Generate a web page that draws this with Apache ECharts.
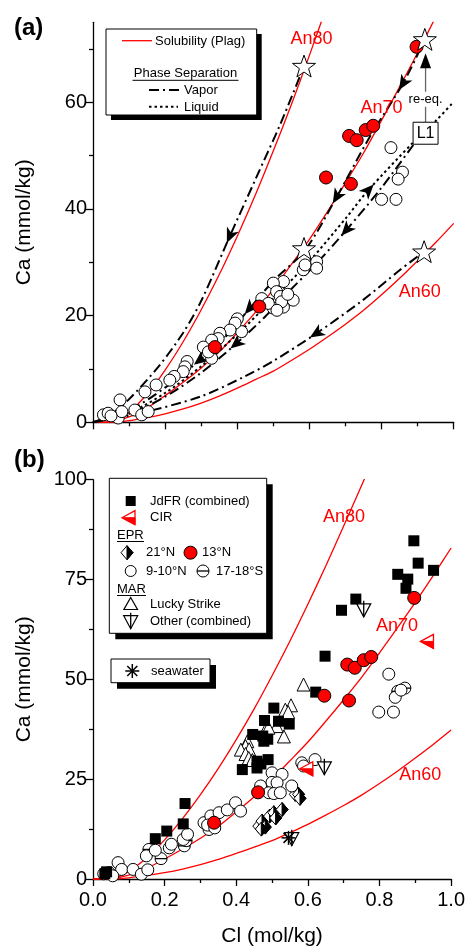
<!DOCTYPE html>
<html><head><meta charset="utf-8">
<script src="https://cdn.jsdelivr.net/npm/echarts@6/dist/echarts.min.js"></script>
<style>html,body{margin:0;padding:0;background:#fff}#c{width:468px;height:948px}</style>
</head><body><div id="c"></div>
<script>
// ---------- solubility curves (Plag) ----------
const solX = [0,0.05,0.1,0.15,0.2,0.25,0.3,0.35,0.4,0.45,0.5,0.55,0.6,0.65,0.7,0.75,0.8,0.85,0.9,0.95,1.0];
const an80X = [0,0.05,0.1,0.15,0.2,0.25,0.3,0.35,0.4,0.45,0.5,0.55,0.6,0.65,0.7,0.76];
const an80Y = [0,0,1.9,5.3,9.8,15.1,21.1,27.7,34.9,42.6,50.9,59.6,68.8,78.4,88.4,100.6];
const an70Y = [0,0.1,1.0,2.7,5.0,7.5,10.2,13.2,16.8,20.6,25.0,29.6,34.3,39.5,44.9,50.5,56.6,62.9,69.3,76.0,82.9];
const an60Y = [0,0,0.3,0.9,1.6,2.5,3.6,4.9,6.4,8.0,9.6,11.6,13.7,16.0,18.4,21.0,23.9,27.0,30.3,33.7,37.3];

// ---------- phase separation paths (panel a) ----------
const vaporA = [[0,0],[0.05,1.5],[0.098,4.2],[0.181,10.4],[0.25,16.8],[0.301,22.9],[0.38,35.0],[0.45,45.5],[0.52,56.0],[0.585,66.8]];
const vaporB = [[0,0],[0.1,2.2],[0.2,6.5],[0.297,11.7],[0.36,15.5],[0.435,21.4],[0.5,26.5],[0.588,32.3],[0.676,42.3],[0.768,53.6],[0.86,63.6],[0.92,71.8]];
const vaporC = [[0.888,52.0],[0.8,44.0],[0.703,36.1],[0.62,29.8],[0.55,25.0],[0.477,19.8],[0.398,14.8],[0.3,9.3],[0.2,4.8],[0.1,1.6],[0,0]];
const vaporD = [[0,0],[0.13,1.7],[0.297,4.8],[0.421,8.6],[0.5,11.5],[0.62,16.7],[0.75,23.0],[0.85,28.5],[0.918,32.0]];
const liquid = [[0,0],[0.1,1.8],[0.2,5.5],[0.3,10.5],[0.4,16.5],[0.5,23.2],[0.6,30.2],[0.7,38.2],[0.763,43.5],[0.888,52.5],[0.953,56.7],[1.0,60.1]];
// arrow position and the point it heads toward
const arrowsA = [[0.38,35.0,0.301,22.9],[0.86,63.6,0.768,53.6],[0.676,42.3,0.588,32.3],[0.435,21.4,0.36,15.5],[0.297,11.7,0.2,6.5],
  [0.703,36.1,0.62,29.8],[0.398,14.8,0.3,9.3],[0.62,16.7,0.5,11.5],[0.763,43.5,0.888,52.5]];
const reeq = [[0.922,54.2,0.920,71.8]];

// ---------- panel a points ----------
const aOpenCircles = [[0.826,51.5],[0.858,46.9],[0.846,45.6],[0.800,41.8],[0.840,41.8],
 [0.583,28.6],[0.588,29.5],[0.620,30.1],[0.620,28.9],
 [0.528,26.4],[0.500,26.1],[0.509,24.5],[0.555,22.9],[0.528,21.6],[0.500,21.4],[0.519,23.6],[0.523,22.6],[0.468,23.2],[0.486,22.3],[0.510,21.0],[0.540,24.0],
 [0.412,17.0],[0.400,19.4],[0.394,18.6],[0.380,17.3],[0.352,16.7],[0.347,15.7],[0.329,15.4],[0.306,14.1],[0.329,12.0],[0.320,13.2],
 [0.261,11.4],[0.255,10.4],[0.250,9.5],[0.225,8.6],[0.213,7.9],[0.175,7.0],[0.144,5.7],
 [0.075,4.2],[0.029,1.4],[0.042,1.7],[0.070,0.8],[0.080,2.0],[0.116,2.3],[0.135,1.4],[0.153,2.0],[0.050,1.2]];
const redCircles13N = [[0.897,70.4],[0.710,53.7],[0.731,52.9],[0.756,54.8],[0.777,55.6],[0.646,45.9],[0.715,44.7],[0.461,21.7],[0.338,14.1]];
const aStars = [[0.585,66.8],[0.920,71.8],[0.585,32.6],[0.918,32.0]];

// ---------- panel b points ----------
const bSquares = [[0.896,84.7],[0.908,79.1],[0.851,76.3],[0.879,75.1],[0.874,72.8],[0.951,77.3],[0.734,70.1],[0.694,67.3],[0.648,55.8],[0.622,46.8],
 [0.505,42.8],[0.479,39.7],[0.518,39.5],[0.548,38.8],[0.446,36.2],[0.474,35.8],[0.477,34.5],[0.488,35.0],[0.458,29.5],[0.489,29.9],[0.417,27.4],[0.458,27.8],[0.469,28.8],
 [0.257,18.9],[0.252,13.8],[0.206,12.0],[0.174,10.1],[0.033,1.3],[0.038,1.8]];
const bOpenCircles = [[0.07,4.1],[0.08,2.4],[0.112,2.4],[0.135,1.2],[0.153,2.3],[0.149,5.8],[0.174,7.2],[0.213,7.8],[0.219,8.7],[0.252,9.9],[0.264,11.2],
 [0.31,14.1],[0.329,15.8],[0.352,16.6],[0.375,17.3],[0.398,19.1],[0.412,17.0],[0.32,13.5],[0.34,12.8],
 [0.5,26.6],[0.528,26.2],[0.468,23.3],[0.5,24.2],[0.514,24.1],[0.555,23.3],[0.491,21.6],[0.505,21.4],[0.523,21.6],[0.583,29.1],[0.62,29.9],[0.588,28.3],
 [0.826,51.3],[0.798,41.8],[0.839,41.8],[0.844,45.5],[0.86,47.3],[0.03,1.3],[0.045,1.6],[0.055,0.8]];
const bTheta = [[0.156,7.4],[0.19,5.1],[0.255,8.3],[0.26,9.6],[0.324,12.4],[0.851,47.0],[0.871,47.8]];
const bDiamonds = [[0.463,13.25],[0.472,14.5],[0.481,13.0],[0.47,12.5],[0.493,15.75],[0.505,16.6],[0.51,15.3],[0.528,17.4],[0.565,21.2],[0.574,21.2],[0.578,20.2]];
const bTriangles = [[0.588,48.7],[0.553,43.5],[0.537,42.4],[0.545,41.8],[0.533,35.7],[0.513,38.3],[0.482,37.4],[0.49,37.9],[0.431,34.5],[0.426,33.3],[0.413,32.4],[0.436,32.5],[0.426,31.3],[0.435,30.3],[0.445,29.8]];
const bCIR = [[0.597,27.6],[0.934,59.5]];
const bOther = [[0.646,27.85],[0.756,67.4],[0.555,10.1]];
const bSeawater = [[0.546,10.3]];

// ---------- labels ----------
const curveNames = ['An80','An70','An60'];
const aLabelAnchors = [[0.606,71.8],[0.800,58.9],[0.906,24.5]];
const bLabelAnchors = [[0.701,90.75],[0.849,63.4],[0.914,26.0]];
const aYTicks = [0,20,40,60];
const aYMinor = [10,30,50,70];

const FF = 'Liberation Sans, Arial, sans-serif';
const zip = (xs, ys) => xs.map((x,i)=>[x, ys[i]]);

// marker drawers (pixel space)
function halfDiamond(x,y){return {type:'group',children:[
  {type:'polygon',shape:{points:[[x,y-7],[x+6,y],[x,y+7],[x-6,y]]},style:{fill:'#fff',stroke:'#000',lineWidth:1}},
  {type:'polygon',shape:{points:[[x,y-7],[x+6,y],[x,y+7]]},style:{fill:'#000',stroke:'#000',lineWidth:1}}]};}
function cirTri(x,y){return {type:'group',children:[
  {type:'polygon',shape:{points:[[x-7,y],[x+6,y-7],[x+6,y+7]]},style:{fill:'#fff',stroke:'#f00',lineWidth:1.3}},
  {type:'polygon',shape:{points:[[x-7,y],[x+6,y],[x+6,y+7]]},style:{fill:'#f00',stroke:'#f00',lineWidth:1}}]};}
function thetaCircle(x,y){return {type:'group',children:[
  {type:'circle',shape:{cx:x,cy:y,r:6},style:{fill:'#fff',stroke:'#000',lineWidth:1}},
  {type:'line',shape:{x1:x-6,y1:y,x2:x+6,y2:y},style:{stroke:'#000',lineWidth:1.3}}]};}
function otherTri(x,y){return {type:'group',children:[
  {type:'polygon',shape:{points:[[x-7,y-6],[x+7,y-6],[x,y+7]]},style:{fill:'#fff',stroke:'#000',lineWidth:1.2}},
  {type:'line',shape:{x1:x,y1:y-9,x2:x,y2:y+7},style:{stroke:'#000',lineWidth:1.3}}]};}
function asterisk(x,y){const r=7,d=5;return {type:'group',children:[
  {type:'line',shape:{x1:x,y1:y-r,x2:x,y2:y+r},style:{stroke:'#000',lineWidth:1.5}},
  {type:'line',shape:{x1:x-r,y1:y,x2:x+r,y2:y},style:{stroke:'#000',lineWidth:1.5}},
  {type:'line',shape:{x1:x-d,y1:y-d,x2:x+d,y2:y+d},style:{stroke:'#000',lineWidth:1.5}},
  {type:'line',shape:{x1:x-d,y1:y+d,x2:x+d,y2:y-d},style:{stroke:'#000',lineWidth:1.5}}]};}
function withZ(el, z){ el.z = z; if (el.children) el.children.forEach(c=>withZ(c, z)); return el; }

function markerSeries(data, xi, yi, fn, z){
  return {type:'custom', xAxisIndex:xi, yAxisIndex:yi, data, encode:{x:0,y:1}, z:z||5, clip:false,
    renderItem:(params, api)=>{const p=api.coord([api.value(0),api.value(1)]); return fn(p[0],p[1]);}};
}
function curve(data, xi, yi){
  return {type:'line', xAxisIndex:xi, yAxisIndex:yi, data, showSymbol:false, symbol:'none', smooth:0.3,
    lineStyle:{color:'#ff0000', width:1.3}, z:2, silent:true};
}
function path(data, dash, w){
  return {type:'line', xAxisIndex:0, yAxisIndex:0, data, showSymbol:false, symbol:'none', smooth:0.3,
    lineStyle:{color:'#000', width:w, type:dash}, z:3, silent:true};
}
function scat(data, xi, yi, symbol, size, style, z){
  return {type:'scatter', xAxisIndex:xi, yAxisIndex:yi, data, symbol, symbolSize:size, symbolKeepAspect:true, z,
    itemStyle:Object.assign({opacity:1}, style), silent:true};
}
function labelSeries(data, xi, yi){
  return {type:'custom', xAxisIndex:xi, yAxisIndex:yi, data, encode:{x:0,y:1}, z:6, clip:false,
    renderItem:(params, api)=>{const p=api.coord([api.value(0),api.value(1)]);
      return {type:'text', x:p[0], y:p[1], style:{text:curveNames[params.dataIndex], fill:'#f00', fontSize:18, fontFamily:FF, align:'center', verticalAlign:'middle'}};}};
}
const STAR = 'path://M0,-10 L2.35,-3.24 L9.51,-3.09 L3.8,1.24 L5.88,8.09 L0,4 L-5.88,8.09 L-3.8,1.24 L-9.51,-3.09 L-2.35,-3.24 Z';

const axLine = {show:true, onZero:false, lineStyle:{color:'#000', width:1.3}};
const tickStyle = {color:'#000', width:1.3};
function xAx(gi, lab){
  return {gridIndex:gi, type:'value', min:0, max:1, interval:0.2,
    axisLine:axLine, axisTick:{show:true, length:7, lineStyle:tickStyle},
    minorTick:{show:true, splitNumber:2, length:4, lineStyle:tickStyle},
    splitLine:{show:false}, minorSplitLine:{show:false},
    axisLabel:{show:lab, margin:11, fontSize:20, color:'#000', fontFamily:FF, formatter:v=>v.toFixed(1)},
    name: lab ? 'Cl (mol/kg)' : '', nameLocation:'middle', nameGap:47,
    nameTextStyle:{fontSize:21, color:'#000', fontFamily:FF}};
}
const yName = {name:'Ca (mmol/kg)', nameLocation:'middle', nameGap:58, nameTextStyle:{fontSize:21, color:'#000', fontFamily:FF}};

const legendEls = [
    {type:'text', x:14, y:28, style:{text:'(a)', fontSize:24, fontWeight:'bold', fontFamily:FF, fill:'#000', verticalAlign:'middle'}},
    {type:'text', x:14, y:460, style:{text:'(b)', fontSize:24, fontWeight:'bold', fontFamily:FF, fill:'#000', verticalAlign:'middle'}},
    // legend a
    withZ({type:'rect', shape:{x:111, y:34, width:150.7, height:86}, style:{fill:'#000'}}, 20),
    withZ({type:'rect', shape:{x:106, y:29, width:150.7, height:86}, style:{fill:'#fff', stroke:'#000', lineWidth:1}}, 21),
    withZ({type:'line', shape:{x1:122, y1:40.7, x2:152, y2:40.7}, style:{stroke:'#ff0000', lineWidth:1.3}}, 22),
    withZ({type:'text', x:155, y:41, style:{text:'Solubility (Plag)', fontSize:13, fontFamily:FF, fill:'#000', verticalAlign:'middle'}}, 22),
    withZ({type:'text', x:185.5, y:73.3, style:{text:'Phase Separation', fontSize:13, fontFamily:FF, fill:'#000', align:'center', verticalAlign:'middle'}}, 22),
    withZ({type:'line', shape:{x1:132.5, y1:80.3, x2:238.5, y2:80.3}, style:{stroke:'#000', lineWidth:1}}, 22),
    withZ({type:'line', shape:{x1:149, y1:90, x2:182, y2:90}, style:{stroke:'#000', lineWidth:2, lineDash:[10,4,2,4]}}, 22),
    withZ({type:'text', x:184, y:90, style:{text:'Vapor', fontSize:13, fontFamily:FF, fill:'#000', verticalAlign:'middle'}}, 22),
    withZ({type:'line', shape:{x1:149, y1:106.7, x2:178, y2:106.7}, style:{stroke:'#000', lineWidth:2, lineDash:[2.5,3]}}, 22),
    withZ({type:'text', x:184, y:107, style:{text:'Liquid', fontSize:13, fontFamily:FF, fill:'#000', verticalAlign:'middle'}}, 22),
    // legend b
    withZ({type:'rect', shape:{x:115.3, y:484.3, width:157.4, height:155}, style:{fill:'#000'}}, 20),
    withZ({type:'rect', shape:{x:109.3, y:478.3, width:157.4, height:155}, style:{fill:'#fff', stroke:'#000', lineWidth:1}}, 21),
    withZ({type:'rect', shape:{x:125.7, y:496, width:10, height:10}, style:{fill:'#000'}}, 22),
    withZ({type:'text', x:150, y:501, style:{text:'JdFR (combined)', fontSize:13, fontFamily:FF, fill:'#000', verticalAlign:'middle'}}, 22),
    withZ(cirTri(129,517.7), 22),
    withZ({type:'text', x:150, y:517.7, style:{text:'CIR', fontSize:13, fontFamily:FF, fill:'#000', verticalAlign:'middle'}}, 22),
    withZ({type:'text', x:117, y:535, style:{text:'EPR', fontSize:13, fontFamily:FF, fill:'#000', verticalAlign:'middle'}}, 22),
    withZ({type:'line', shape:{x1:117, y1:541.5, x2:144, y2:541.5}, style:{stroke:'#000', lineWidth:1}}, 22),
    withZ(halfDiamond(127,552.7), 22),
    withZ({type:'text', x:146, y:552.7, style:{text:'21°N', fontSize:13, fontFamily:FF, fill:'#000', verticalAlign:'middle'}}, 22),
    withZ({type:'circle', shape:{cx:190.5, cy:552.7, r:6.5}, style:{fill:'#ff0000', stroke:'#000', lineWidth:1}}, 22),
    withZ({type:'text', x:202, y:552.7, style:{text:'13°N', fontSize:13, fontFamily:FF, fill:'#000', verticalAlign:'middle'}}, 22),
    withZ({type:'circle', shape:{cx:130.7, cy:571, r:5.5}, style:{fill:'#fff', stroke:'#000', lineWidth:1}}, 22),
    withZ({type:'text', x:146, y:571, style:{text:'9-10°N', fontSize:13, fontFamily:FF, fill:'#000', verticalAlign:'middle'}}, 22),
    withZ(thetaCircle(203,571), 22),
    withZ({type:'text', x:216, y:571, style:{text:'17-18°S', fontSize:13, fontFamily:FF, fill:'#000', verticalAlign:'middle'}}, 22),
    withZ({type:'text', x:117, y:589, style:{text:'MAR', fontSize:13, fontFamily:FF, fill:'#000', verticalAlign:'middle'}}, 22),
    withZ({type:'line', shape:{x1:117, y1:595.5, x2:146, y2:595.5}, style:{stroke:'#000', lineWidth:1}}, 22),
    withZ({type:'polygon', shape:{points:[[130.7,597.5],[137.5,609.5],[123.9,609.5]]}, style:{fill:'#fff', stroke:'#000', lineWidth:1.2}}, 22),
    withZ({type:'text', x:150, y:604, style:{text:'Lucky Strike', fontSize:13, fontFamily:FF, fill:'#000', verticalAlign:'middle'}}, 22),
    withZ(otherTri(130.7,621.7), 22),
    withZ({type:'text', x:150, y:621.7, style:{text:'Other (combined)', fontSize:13, fontFamily:FF, fill:'#000', verticalAlign:'middle'}}, 22),
    // seawater box
    withZ({type:'rect', shape:{x:117, y:665, width:99, height:23.7}, style:{fill:'#000'}}, 20),
    withZ({type:'rect', shape:{x:111, y:659, width:99, height:23.7}, style:{fill:'#fff', stroke:'#000', lineWidth:1}}, 21),
    withZ(asterisk(132.3,671), 22),
    withZ({type:'text', x:151, y:671, style:{text:'seawater', fontSize:13, fontFamily:FF, fill:'#000', verticalAlign:'middle'}}, 22)
];

const option = {
  animation:false,
  backgroundColor:'#fff',
  grid:[{left:93, top:22.3, width:360.7, height:400},{left:93, top:479.7, width:360.7, height:400}],
  xAxis:[xAx(0,false), xAx(1,true)],
  yAxis:[
    Object.assign({gridIndex:0, type:'value', min:0, max:75, position:'left',
      axisLine:axLine, axisTick:{show:true, length:7, lineStyle:tickStyle, customValues:aYTicks},
      splitLine:{show:false},
      axisLabel:{margin:6, fontSize:20, color:'#000', fontFamily:FF, customValues:aYTicks}}, yName),
    {gridIndex:0, type:'value', min:0, max:75, position:'left', offset:0,
      axisLine:{show:false}, axisTick:{show:true, length:4, lineStyle:tickStyle, customValues:aYMinor},
      axisLabel:{show:false}, splitLine:{show:false}},
    Object.assign({gridIndex:1, type:'value', min:0, max:100, interval:25, position:'left',
      axisLine:axLine, axisTick:{show:true, length:7, lineStyle:tickStyle},
      minorTick:{show:true, splitNumber:2, length:4, lineStyle:tickStyle},
      splitLine:{show:false}, minorSplitLine:{show:false},
      axisLabel:{margin:6, fontSize:20, color:'#000', fontFamily:FF}}, yName)
  ],
  series:[
    // panel a
    curve(zip(an80X, an80Y),0,0), curve(zip(solX, an70Y),0,0), curve(zip(solX, an60Y),0,0),
    path(vaporA,[10,4,2,4],2), path(vaporB,[10,4,2,4],2), path(vaporC,[10,4,2,4],2), path(vaporD,[10,4,2,4],2),
    path(liquid,[2.5,3],2),
    {type:'custom', xAxisIndex:0, yAxisIndex:0, data:arrowsA, encode:{x:0,y:1}, z:4, clip:false,
      renderItem:(params, api)=>{
        const p=api.coord([api.value(0),api.value(1)]), q=api.coord([api.value(2),api.value(3)]);
        const a=Math.atan2(q[1]-p[1], q[0]-p[0]), c=Math.cos(a), s=Math.sin(a);
        const pts=[[8,0],[-7,-6.5],[-3,0],[-7,6.5]].map(([u,v])=>[p[0]+u*c-v*s, p[1]+u*s+v*c]);
        return {type:'polygon', shape:{points:pts}, style:{fill:'#000'}};
      }},
    scat(aOpenCircles,0,0,'circle',12,{color:'#fff', borderColor:'#000', borderWidth:1},5),
    scat(redCircles13N,0,0,'circle',13,{color:'#ff0000', borderColor:'#000', borderWidth:1},6),
    scat(aStars,0,0,STAR,23,{color:'#fff', borderColor:'#000', borderWidth:1},7),
    {type:'custom', xAxisIndex:0, yAxisIndex:0, data:reeq, encode:{x:0,y:1}, z:8, clip:false,
      renderItem:(params, api)=>{
        const p=api.coord([api.value(0),api.value(1)]), t=api.coord([api.value(2),api.value(3)]);
        const x=p[0], y=p[1];
        return {type:'group', children:[
          {type:'line', shape:{x1:x, y1:y-11, x2:x, y2:t[1]+20}, style:{stroke:'#666', lineWidth:1.3}},
          {type:'polygon', shape:{points:[[x,t[1]+14],[x-5.5,t[1]+29],[x+5.5,t[1]+29]]}, style:{fill:'#000'}},
          {type:'text', x:x, y:y-34, style:{text:'re-eq.', fontSize:13, fontFamily:FF, fill:'#000', align:'center', verticalAlign:'middle', backgroundColor:'#fff', padding:[1,1]}},
          {type:'rect', shape:{x:x-12.5, y:y-11, width:25, height:22}, style:{fill:'#fff', stroke:'#000', lineWidth:1}},
          {type:'text', x:x, y:y+0.5, style:{text:'L1', fontSize:16, fontFamily:FF, fill:'#000', align:'center', verticalAlign:'middle'}}
        ]};
      }},
    labelSeries(aLabelAnchors,0,0),
    // panel b
    curve(zip(an80X, an80Y),1,2), curve(zip(solX, an70Y),1,2), curve(zip(solX, an60Y),1,2),
    scat(bOpenCircles,1,2,'circle',12,{color:'#fff', borderColor:'#000', borderWidth:1},5),
    markerSeries(bTheta,1,2,thetaCircle,5),
    markerSeries(bDiamonds,1,2,halfDiamond,5),
    scat(bTriangles,1,2,'triangle',13,{color:'#fff', borderColor:'#000', borderWidth:1},5),
    scat(bSquares,1,2,'rect',11,{color:'#000'},6),
    scat(redCircles13N,1,2,'circle',13,{color:'#ff0000', borderColor:'#000', borderWidth:1},7),
    markerSeries(bCIR,1,2,cirTri,7),
    markerSeries(bOther,1,2,otherTri,7),
    markerSeries(bSeawater,1,2,asterisk,8),
    labelSeries(bLabelAnchors,1,2)
  ],
  graphic:{elements:legendEls}
};
const chart = echarts.init(document.getElementById('c'), null, {renderer:'canvas'});
chart.setOption(option);
</script></body></html>
